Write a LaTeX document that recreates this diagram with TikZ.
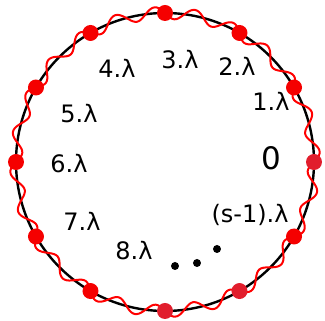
\documentclass[tikz,border=0pt]{standalone}
\usepackage{fontspec}
\setmainfont{DejaVu Sans}
\usetikzlibrary{calc}
\definecolor{dotred}{RGB}{245,0,0}
\definecolor{dotcrim}{RGB}{225,30,45}
\begin{document}
\begin{tikzpicture}[x=1pt,y=1pt,
  ring/.style={draw=black,line width=2.4pt},
  wave/.style={draw=red,line width=2pt},
  reddot/.style={circle,fill=dotred,inner sep=0pt,minimum size=16pt},
  crimdot/.style={circle,fill=dotcrim,inner sep=0pt,minimum size=16pt},
  lab/.style={font=\fontsize{24}{26}\selectfont,inner sep=0pt},
  bdot/.style={circle,fill=black,inner sep=0pt,minimum size=8pt}]
\useasboundingbox (0,0) rectangle (325,321);
\coordinate (c) at (165,159);
\draw[ring] (c) circle (149);
\draw[wave,shift={(165,159)}] plot[smooth cycle,samples=480,domain=0:359.25,variable=\t] ({\t}:{149+6*sin(24*\t)});
\foreach \a/\s in {0/crimdot,30/reddot,60/reddot,90/reddot,120/reddot,150/reddot,180/reddot,210/reddot,240/reddot,270/crimdot,300/crimdot,330/reddot}{
  \node[\s] (d\a) at ($(c)+(\a:149)$) {};
}
\node[lab] (l3) at (180,261) {3.λ};
\node[lab] (l2) at (237,255) {2.λ};
\node[lab] (l4) at (117,253) {4.λ};
\node[lab] (l1) at (271,220) {1.λ};
\node[lab] (l5) at (79,207) {5.λ};
\node[lab,font=\fontsize{31}{33}\selectfont] (l0) at (271,163) {0};
\node[lab] (l6) at (69,157) {6.λ};
\node[lab] (ls) at (250,106) {(s-1).λ};
\node[lab] (l7) at (82,100) {7.λ};
\node[lab] (l8) at (134,70) {8.λ};
\node[bdot] (e1) at (175,55) {};
\node[bdot] (e2) at (197,58) {};
\node[bdot] (e3) at (217,72) {};
\end{tikzpicture}
\end{document}
